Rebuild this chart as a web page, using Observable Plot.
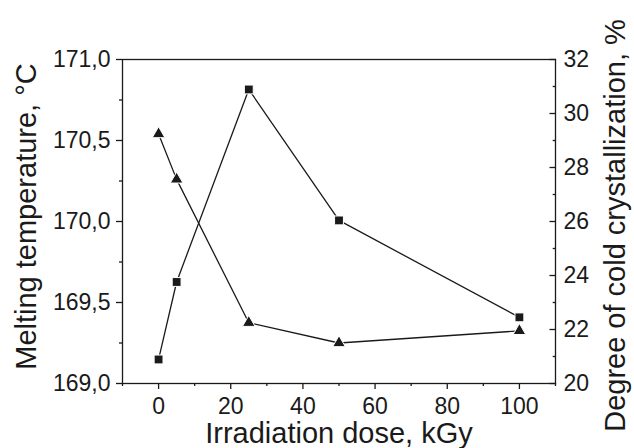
<!DOCTYPE html>
<html><head><meta charset="utf-8">
<script src="https://cdn.jsdelivr.net/npm/d3@7"></script>
<script src="https://cdn.jsdelivr.net/npm/@observablehq/plot@0.6"></script>
<style>body{margin:0;background:#fff} svg{display:block}</style>
</head><body><div id="chart"></div>
<script>
// Data
const dose = [0, 5, 25, 50, 100];                            // kGy
const meltingTemp = [170.54, 170.26, 169.375, 169.25, 169.325]; // °C (triangles, left axis)
const coldCryst = [20.89, 23.76, 30.89, 26.04, 22.45];       // % (squares, right axis)

const xTicks = [0, 20, 40, 60, 80, 100];
const xMinor = [-10, 10, 30, 50, 70, 90, 110];
const leftTicks = [169.0, 169.5, 170.0, 170.5, 171.0];
const leftMinor = [169.25, 169.75, 170.25, 170.75];
const rightTicks = [20, 22, 24, 26, 28, 30, 32];
const rightMinor = [21, 23, 25, 27, 29, 31];

const xTitle = "Irradiation dose, kGy";
const leftTitle = "Melting temperature, °C";
const rightTitle = "Degree of cold crystallization, %";

// right axis (20..32 %) mapped onto left axis (169..171 °C)
const toLeft = v => 169 + (v - 20) / 6;
const fromLeft = v => (v - 169) * 6 + 20;

const tmData = dose.map((d, i) => ({dose: d, v: meltingTemp[i]}));
const ccData = dose.map((d, i) => ({dose: d, v: toLeft(coldCryst[i])}));

const ink = "#1a1a1a";
const fmt = d => d.toFixed(1).replace(".", ",");

const chart = Plot.plot({
  width: 634, height: 448,
  marginLeft: 122, marginRight: 79, marginTop: 59, marginBottom: 65,
  x: {domain: [-10, 110]},
  y: {domain: [169, 171]},
  style: {fontFamily: "'Liberation Sans', Arial, sans-serif", fontSize: "23px", color: ink, background: "white"},
  marks: [
    Plot.frame({stroke: ink, strokeWidth: 1.3}),
    Plot.axisX({ticks: xTicks, tickSize: 6, tickPadding: 8, tickFormat: d => String(d), label: null, fontSize: 23, strokeWidth: 1.3}),
    Plot.axisX({ticks: xMinor, tickSize: 3, tickFormat: () => "", label: null, strokeWidth: 1.3}),
    Plot.axisY({ticks: leftTicks, tickSize: 6, tickPadding: 6, tickFormat: fmt, label: null, fontSize: 23, strokeWidth: 1.3}),
    Plot.axisY({ticks: leftMinor, tickSize: 3, tickFormat: () => "", label: null, strokeWidth: 1.3}),
    Plot.axisY({anchor: "right", ticks: rightTicks.map(toLeft), tickSize: -6.5, tickPadding: 14.5,
      tickFormat: d => String(Math.round(fromLeft(d))), label: null, fontSize: 23, strokeWidth: 1.3}),
    Plot.axisY({anchor: "right", ticks: rightMinor.map(toLeft), tickSize: -3.3, tickFormat: () => "", label: null, strokeWidth: 1.3}),
    Plot.line(tmData, {x: "dose", y: "v", stroke: ink, strokeWidth: 1.3}),
    Plot.line(ccData, {x: "dose", y: "v", stroke: ink, strokeWidth: 1.3}),
    Plot.dot(tmData, {x: "dose", y: "v", symbol: "triangle", r: 4.7, fill: ink, stroke: "white", strokeWidth: 1}),
    Plot.dot(ccData, {x: "dose", y: "v", symbol: "square", r: 5, fill: ink, stroke: "white", strokeWidth: 1}),
    Plot.text([xTitle], {text: d => d, frameAnchor: "bottom", dy: 50, fontSize: 29, lineAnchor: "middle", textAnchor: "middle", fill: ink}),
    Plot.text([leftTitle], {text: d => d, frameAnchor: "left", dx: -96, dy: -5, rotate: -90, fontSize: 29, lineAnchor: "middle", textAnchor: "middle", fill: ink}),
    Plot.text([rightTitle], {text: d => d, frameAnchor: "right", dx: 60, dy: 4, rotate: -90, fontSize: 29, lineAnchor: "middle", textAnchor: "middle", fill: ink})
  ]
});
document.getElementById("chart").appendChild(chart);
</script>
</body></html>
